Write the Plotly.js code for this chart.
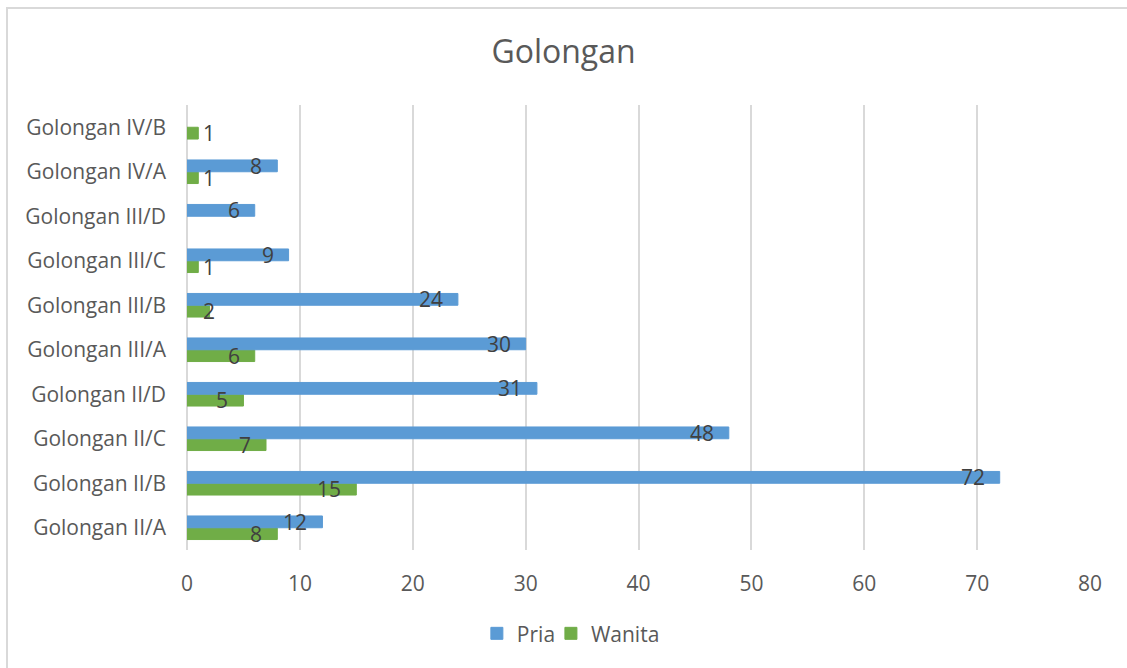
<!DOCTYPE html>
<html>
<head>
<meta charset="utf-8">
<script src="https://cdn.plot.ly/plotly-3.0.1.min.js"></script>
<style>
  html, body { margin: 0; padding: 0; background: #ffffff; }
  #frame { position: absolute; left: 6px; top: 7px; width: 1200px; height: 700px;
           border-left: 2px solid #d9d9d9; border-top: 2px solid #d9d9d9; }
  #chart { position: absolute; left: 0; top: 0; width: 1127px; height: 668px; }
</style>
</head>
<body>
<div id="frame"></div>
<div id="chart"></div>
<script>
const categories = ["Golongan II/A", "Golongan II/B", "Golongan II/C", "Golongan II/D",
  "Golongan III/A", "Golongan III/B", "Golongan III/C", "Golongan III/D",
  "Golongan IV/A", "Golongan IV/B"];
const pria = [12, 72, 48, 31, 30, 24, 9, 6, 8, null];
const wanita = [8, 15, 7, 5, 6, 2, 1, null, 1, 1];
const xTicks = [0, 10, 20, 30, 40, 50, 60, 70, 80];

const blue = "#5B9BD5", green = "#70AD47";
const font = "'Open Sans', 'Noto Sans', sans-serif";

const traces = [
  { type: "bar", orientation: "h", name: "Wanita", y: categories, x: wanita,
    marker: { color: green, line: { color: green, width: 1 } }, legend: "legend2", hoverinfo: "x+name" },
  { type: "bar", orientation: "h", name: "Pria", y: categories, x: pria,
    marker: { color: blue, line: { color: blue, width: 1 } }, legend: "legend", hoverinfo: "x+name" }
];

// data labels (inside end), positioned from the data values
const annotations = [];
function addLabels(vals, yshift) {
  vals.forEach((v, i) => {
    if (v === null || v === undefined) return;
    const small = v <= 2;
    annotations.push({
      x: small ? 0 : v, y: categories[i], xref: "x", yref: "y",
      text: String(v), showarrow: false,
      xanchor: small ? "left" : "right", xshift: small ? 14 : -13, yshift: yshift,
      font: { family: font, size: 21, color: "#404040" }
    });
  });
}
addLabels(pria, 6);
addLabels(wanita, -6);

const legendFont = { family: font, size: 21, color: "#595959" };

const layout = {
  width: 1127, height: 668,
  paper_bgcolor: "rgba(0,0,0,0)", plot_bgcolor: "rgba(0,0,0,0)",
  margin: { l: 187, r: 37, t: 105, b: 118 },
  title: { text: "Golongan", x: 0.5, xanchor: "center", y: 0.922, yanchor: "middle",
           font: { family: font, size: 32, color: "#595959" } },
  barmode: "group", bargap: 0.47, bargroupgap: 0,
  xaxis: { range: [0, 80], tickvals: xTicks, ticktext: xTicks.map(String),
           showgrid: true, gridcolor: "#d9d9d9", gridwidth: 2,
           zeroline: true, zerolinecolor: "#d9d9d9", zerolinewidth: 2,
           showline: false, ticks: "", ticklen: 0, ticklabelstandoff: 19,
           tickfont: { family: font, size: 21, color: "#595959" }, automargin: false },
  yaxis: { type: "category", categoryorder: "array", categoryarray: categories,
           showgrid: false, zeroline: false, showline: false, ticks: "",
           ticklabelstandoff: 20,
           tickfont: { family: font, size: 21, color: "#595959" }, automargin: false },
  showlegend: true,
  legend: { orientation: "h", x: 0.321, xanchor: "left", y: -0.142, yanchor: "top",
            itemwidth: 30, font: legendFont },
  legend2: { orientation: "h", x: 0.403, xanchor: "left", y: -0.142, yanchor: "top",
            itemwidth: 30, font: legendFont },
  annotations: annotations
};

Plotly.newPlot("chart", traces, layout, { displayModeBar: false, staticPlot: true });
</script>
</body>
</html>
